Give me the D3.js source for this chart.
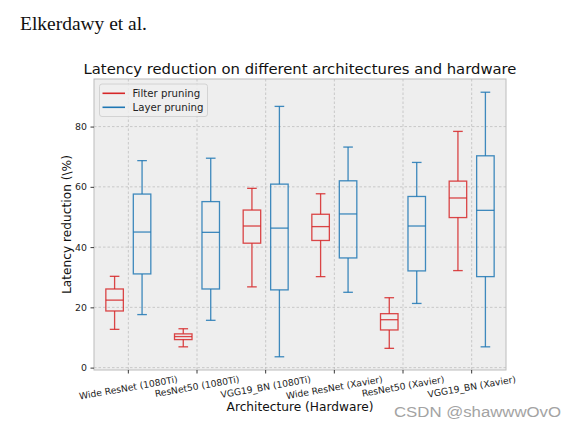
<!DOCTYPE html>
<html>
<head>
<meta charset="utf-8">
<script src="https://cdn.jsdelivr.net/npm/d3@7/dist/d3.min.js"></script>
<style>
  body { margin: 0; background: #fff; }
  svg { display: block; }
</style>
</head>
<body>
<svg id="chart" width="570" height="429"></svg>
<script>
const categories = ["Wide ResNet (1080Ti)", "ResNet50 (1080Ti)", "VGG19_BN (1080Ti)",
                    "Wide ResNet (Xavier)", "ResNet50 (Xavier)", "VGG19_BN (Xavier)"];
const seriesNames = ["Filter pruning", "Layer pruning"];

const filterLow  = [12.7, 6.9, 26.8, 30.2, 6.4, 32.2];
const filterQ1   = [18.8, 9.3, 41.3, 42.2, 12.5, 49.8];
const filterMed  = [22.4, 10.3, 47.0, 46.8, 15.9, 56.3];
const filterQ3   = [26.1, 11.2, 52.3, 50.9, 17.9, 61.9];
const filterHigh = [30.3, 12.9, 59.5, 57.7, 23.2, 78.4];

const layerLow  = [17.6, 15.7, 3.6, 25.0, 21.3, 6.9];
const layerQ1   = [31.1, 26.1, 25.8, 36.4, 32.1, 30.2];
const layerMed  = [45.0, 44.9, 46.3, 51.0, 47.0, 52.2];
const layerQ3   = [57.6, 55.1, 60.9, 62.0, 56.8, 70.3];
const layerHigh = [68.7, 69.5, 86.7, 73.2, 68.1, 91.4];

const yTicks = [0, 20, 40, 60, 80];

const colors = ["#d62728", "#1f77b4"];

const series = [
  {name: seriesNames[0], color: colors[0], offset: -0.2,
   low: filterLow, q1: filterQ1, med: filterMed, q3: filterQ3, high: filterHigh},
  {name: seriesNames[1], color: colors[1], offset: 0.2,
   low: layerLow, q1: layerQ1, med: layerMed, q3: layerQ3, high: layerHigh}
];

const svg = d3.select("#chart");
const plot = {left: 94, right: 506, top: 79, bottom: 370};

const allVals = [].concat(filterLow, filterHigh, layerLow, layerHigh);
const vmin = d3.min(allVals), vmax = d3.max(allVals);
const pad = (vmax - vmin) * 0.05;

const x = d3.scaleBand().domain(categories).range([plot.left, plot.right]).padding(0);
const y = d3.scaleLinear().domain([vmin - pad, vmax + pad]).range([plot.bottom, plot.top]);
const bw = x.bandwidth();
const cx = c => x(c) + bw / 2;

// text at top-left
svg.append("text").attr("x", 20).attr("y", 30)
  .attr("font-family", "'Liberation Serif', 'DejaVu Serif', serif")
  .attr("font-size", 19.5).attr("fill", "#111")
  .attr("textLength", 127).attr("lengthAdjust", "spacingAndGlyphs")
  .text("Elkerdawy et al.");

// plot background
svg.append("rect").attr("x", plot.left).attr("y", plot.top)
  .attr("width", plot.right - plot.left).attr("height", plot.bottom - plot.top)
  .attr("fill", "#eeeeee");

// grid
const grid = svg.append("g");
grid.selectAll("line.gy").data(yTicks).join("line")
  .attr("x1", plot.left).attr("x2", plot.right)
  .attr("y1", d => y(d)).attr("y2", d => y(d))
  .attr("stroke", "#b8b8b8").attr("stroke-width", 0.7).attr("stroke-dasharray", "2.5,2");
grid.selectAll("line.gx").data(categories).join("line")
  .attr("x1", d => cx(d)).attr("x2", d => cx(d))
  .attr("y1", plot.top).attr("y2", plot.bottom)
  .attr("stroke", "#b8b8b8").attr("stroke-width", 0.7).attr("stroke-dasharray", "2.5,2");

// boxes
const boxW = bw * 0.255;
const capW = boxW * 0.55;
series.forEach(s => {
  const g = svg.append("g").attr("stroke", s.color).attr("stroke-width", 1.3)
    .attr("fill", "none").attr("stroke-opacity", 0.85);
  categories.forEach((c, i) => {
    const xc = cx(c) + s.offset * bw;
    g.append("line").attr("x1", xc).attr("x2", xc).attr("y1", y(s.q3[i])).attr("y2", y(s.high[i]));
    g.append("line").attr("x1", xc).attr("x2", xc).attr("y1", y(s.q1[i])).attr("y2", y(s.low[i]));
    g.append("line").attr("x1", xc - capW/2).attr("x2", xc + capW/2).attr("y1", y(s.high[i])).attr("y2", y(s.high[i]));
    g.append("line").attr("x1", xc - capW/2).attr("x2", xc + capW/2).attr("y1", y(s.low[i])).attr("y2", y(s.low[i]));
    g.append("rect").attr("x", xc - boxW/2).attr("width", boxW)
      .attr("y", y(s.q3[i])).attr("height", y(s.q1[i]) - y(s.q3[i]));
    g.append("line").attr("x1", xc - boxW/2).attr("x2", xc + boxW/2).attr("y1", y(s.med[i])).attr("y2", y(s.med[i]));
  });
});

// axes frame
svg.append("rect").attr("x", plot.left).attr("y", plot.top)
  .attr("width", plot.right - plot.left).attr("height", plot.bottom - plot.top)
  .attr("fill", "none").attr("stroke", "#bcbcbc").attr("stroke-width", 1);

// y axis
const yAxis = svg.append("g").attr("transform", `translate(${plot.left},0)`)
  .call(d3.axisLeft(y).tickValues(yTicks).tickSize(3.5).tickPadding(3.5));
yAxis.select(".domain").remove();
yAxis.selectAll(".tick line").attr("stroke", "#222").attr("stroke-width", 0.9);
yAxis.selectAll(".tick text").attr("font-family", "'DejaVu Sans', sans-serif")
  .attr("font-size", 9.4).attr("fill", "#222");

// x axis
const xAxis = svg.append("g").attr("transform", `translate(0,${plot.bottom})`)
  .call(d3.axisBottom(x).tickSize(3.5).tickFormat(""));
xAxis.select(".domain").remove();
xAxis.selectAll(".tick line").attr("stroke", "#222").attr("stroke-width", 0.9);

// rotated x tick labels: rotated bbox centered horizontally on tick, top aligned
const rot = 10 * Math.PI / 180;
const fsX = 9.2;
const labelTop = 373.5;
categories.forEach(c => {
  const t = svg.append("text")
    .attr("font-family", "'DejaVu Sans', sans-serif").attr("font-size", fsX).attr("fill", "#222")
    .attr("text-anchor", "middle").attr("dominant-baseline", "central")
    .text(c);
  const w = t.node().getComputedTextLength();
  const h = fsX * 1.15;
  const H = w * Math.sin(rot) + h * Math.cos(rot);
  t.attr("transform", `translate(${cx(c)},${labelTop + H/2}) rotate(-10)`);
});

// axis labels
svg.append("text").attr("x", (plot.left + plot.right) / 2).attr("y", 411)
  .attr("text-anchor", "middle").attr("font-family", "'DejaVu Sans', sans-serif")
  .attr("font-size", 12.2).attr("fill", "#111").text("Architecture (Hardware)");
svg.append("text").attr("transform", `translate(71,${(plot.top + plot.bottom)/2}) rotate(-90)`)
  .attr("text-anchor", "middle").attr("font-family", "'DejaVu Sans', sans-serif")
  .attr("font-size", 12.2).attr("fill", "#111").text("Latency reduction (\\%)");

// title
svg.append("text").attr("x", (plot.left + plot.right) / 2).attr("y", 74)
  .attr("text-anchor", "middle").attr("font-family", "'DejaVu Sans', sans-serif")
  .attr("font-size", 14.8).attr("fill", "#111")
  .text("Latency reduction on different architectures and hardware");

// legend
const lg = svg.append("g");
lg.append("rect").attr("x", 99.5).attr("y", 84).attr("width", 108).attr("height", 32.5)
  .attr("rx", 2.5).attr("fill", "#eeeeee").attr("fill-opacity", 0.85)
  .attr("stroke", "#cccccc").attr("stroke-width", 0.8);
series.forEach((s, i) => {
  const yy = 93.3 + i * 14;
  lg.append("line").attr("x1", 102.5).attr("x2", 125).attr("y1", yy).attr("y2", yy)
    .attr("stroke", s.color).attr("stroke-width", 1.6);
  lg.append("text").attr("x", 132.5).attr("y", yy).attr("dominant-baseline", "central")
    .attr("font-family", "'DejaVu Sans', sans-serif").attr("font-size", 10.2).attr("fill", "#222")
    .text(s.name);
});

// watermark
svg.append("text").attr("x", 394).attr("y", 417)
  .attr("font-family", "'Liberation Sans', Arial, sans-serif").attr("font-size", 15.5)
  .attr("textLength", 167).attr("lengthAdjust", "spacingAndGlyphs")
  .attr("fill", "#a3a3a3").text("CSDN @shawwwOvO");
</script>
</body>
</html>
